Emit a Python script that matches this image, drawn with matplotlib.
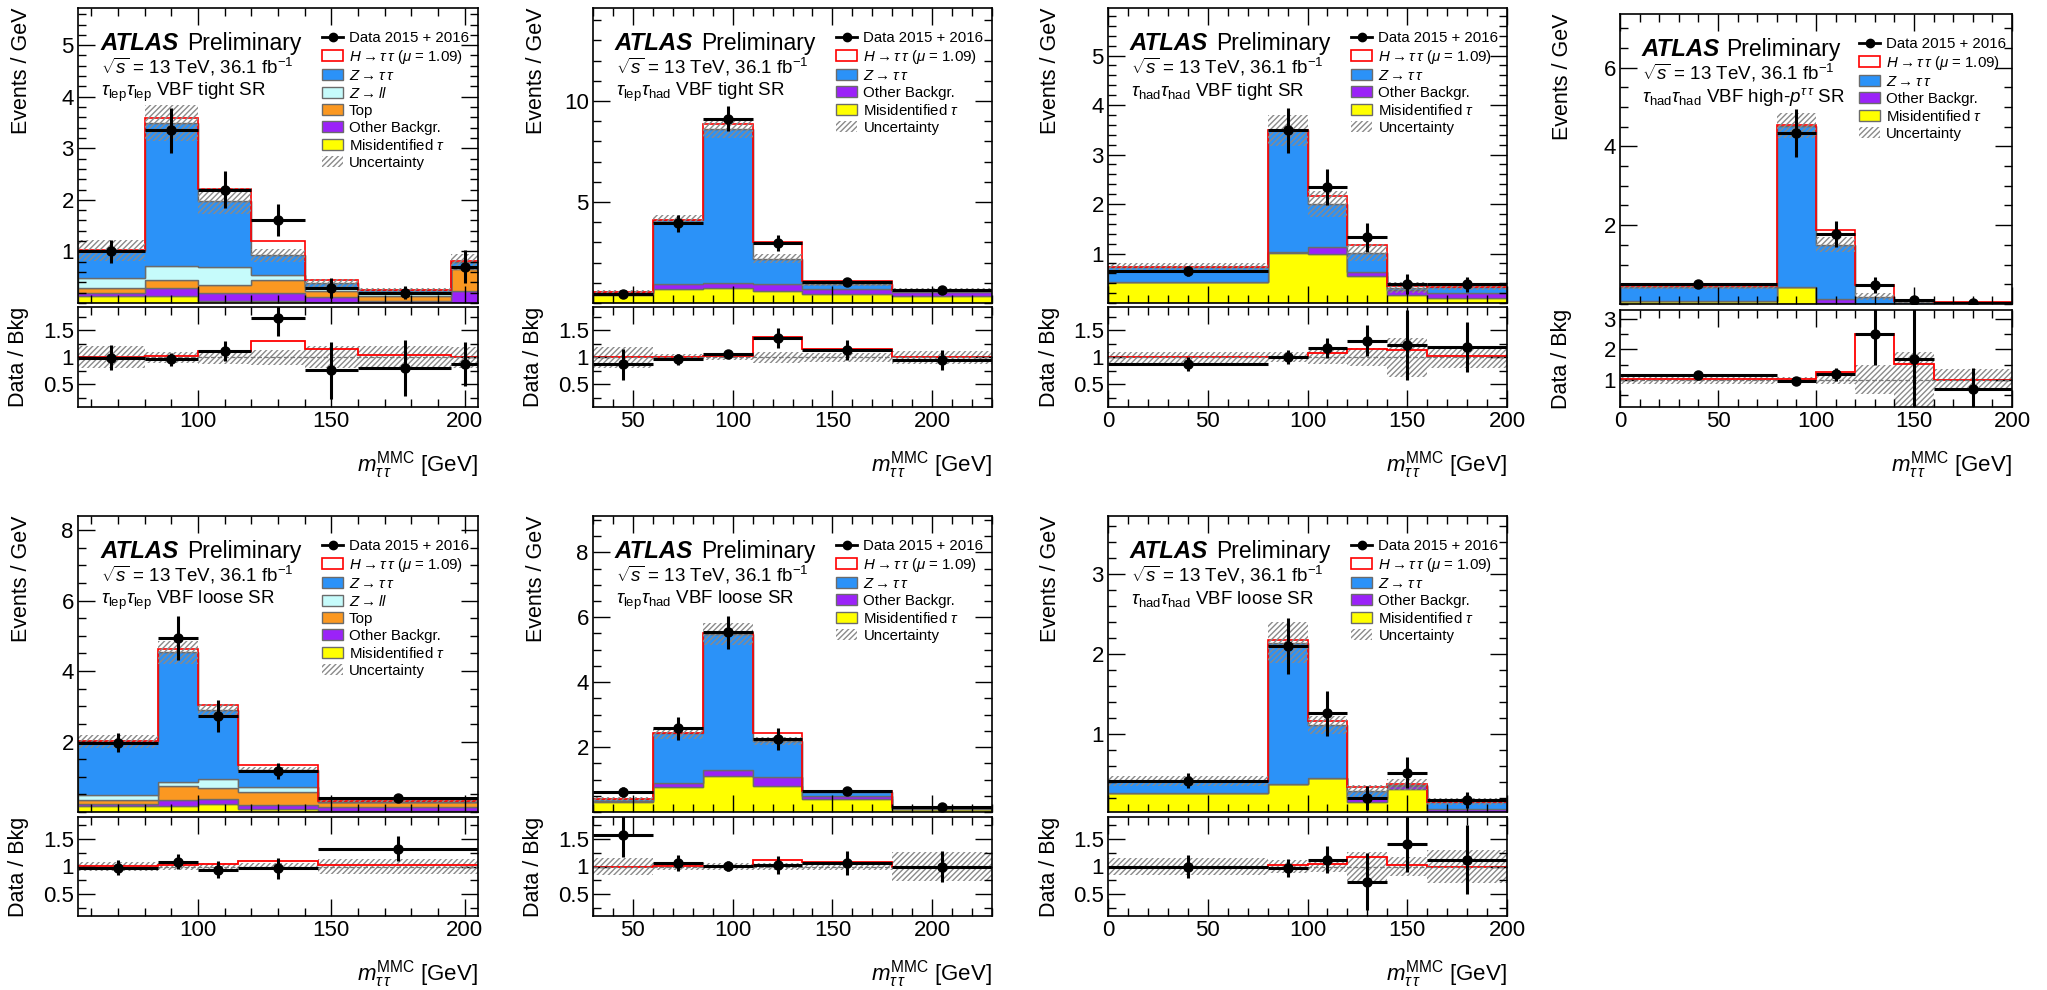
import numpy as np
import matplotlib
matplotlib.use('Agg')
import matplotlib.pyplot as plt
from matplotlib.patches import Patch
from matplotlib.lines import Line2D
from matplotlib.ticker import MultipleLocator, FixedLocator, FuncFormatter

plt.rcParams['font.family'] = ['Liberation Sans', 'DejaVu Sans']
plt.rcParams['mathtext.fontset'] = 'custom'
plt.rcParams['mathtext.rm'] = 'Liberation Sans'
plt.rcParams['mathtext.it'] = 'Liberation Sans:italic'
plt.rcParams['mathtext.bf'] = 'Liberation Sans:bold'
plt.rcParams['hatch.linewidth'] = 1.0

# ---------------- data (Events / GeV) ----------------
p1_edges = [55, 80, 100, 120, 140, 160, 195, 205]
p1_data = [1.00, 3.35, 2.20, 1.60, 0.29, 0.20, 0.70]
p1_err = [0.23, 0.44, 0.36, 0.31, 0.20, 0.13, 0.32]
p1_misid = [0.14, 0.14, 0.03, 0.045, 0.01, 0.005, 0.0]
p1_other = [0.05, 0.15, 0.16, 0.15, 0.10, 0.025, 0.24]
p1_top = [0.10, 0.16, 0.16, 0.26, 0.12, 0.10, 0.42]
p1_zll = [0.19, 0.26, 0.34, 0.08, 0.08, 0.06, 0.04]
p1_ztt = [0.53, 2.78, 1.29, 0.39, 0.07, 0.06, 0.10]
p1_higgs = [0.01, 0.10, 0.24, 0.28, 0.06, 0.01, 0.01]
p1_unc = [0.20, 0.10, 0.13, 0.14, 0.20, 0.20, 0.19]

p2_edges = [30, 60, 85, 110, 135, 180, 230]
p2_data = [0.46, 3.94, 9.13, 2.99, 1.06, 0.63]
p2_err = [0.15, 0.43, 0.62, 0.40, 0.17, 0.12]
p2_misid = [0.42, 0.71, 0.74, 0.58, 0.43, 0.35]
p2_other = [0.06, 0.21, 0.26, 0.34, 0.25, 0.19]
p2_ztt = [0.05, 3.18, 7.61, 1.28, 0.25, 0.12]
p2_higgs = [0.005, 0.02, 0.26, 0.81, 0.14, 0.005]
p2_unc = [0.19, 0.06, 0.05, 0.10, 0.08, 0.12]

p3_edges = [0, 80, 100, 120, 140, 160, 200]
p3_data = [0.64, 3.49, 2.34, 1.33, 0.38, 0.38]
p3_err = [0.10, 0.45, 0.37, 0.29, 0.20, 0.15]
p3_misid = [0.42, 1.02, 0.98, 0.54, 0.17, 0.10]
p3_other = [0.01, 0.02, 0.16, 0.08, 0.10, 0.10]
p3_ztt = [0.30, 2.45, 0.86, 0.40, 0.04, 0.12]
p3_higgs = [0.005, 0.01, 0.17, 0.16, 0.04, 0.01]
p3_unc = [0.10, 0.09, 0.13, 0.17, 0.36, 0.20]

p4_edges = [0, 80, 100, 120, 140, 160, 200]
p4_data = [0.50, 4.35, 1.78, 0.48, 0.09, 0.03]
p4_err = [0.06, 0.61, 0.33, 0.20, 0.09, 0.03]
p4_misid = [0.08, 0.44, 0.02, 0.0, 0.0, 0.0]
p4_other = [0.0, 0.0, 0.10, 0.01, 0.0, 0.0]
p4_ztt = [0.36, 4.09, 1.39, 0.18, 0.053, 0.043]
p4_higgs = [0.005, 0.02, 0.36, 0.29, 0.028, 0.0]
p4_unc = [0.15, 0.07, 0.13, 0.47, 0.90, 0.35]

p5_edges = [55, 85, 100, 115, 145, 205]
p5_data = [1.97, 4.94, 2.72, 1.16, 0.41]
p5_err = [0.27, 0.62, 0.46, 0.23, 0.07]
p5_misid = [0.16, 0.16, 0.22, 0.09, 0.02]
p5_other = [0.06, 0.17, 0.14, 0.12, 0.12]
p5_top = [0.13, 0.40, 0.33, 0.36, 0.14]
p5_zll = [0.14, 0.11, 0.26, 0.14, 0.01]
p5_ztt = [1.52, 3.69, 1.94, 0.49, 0.02]
p5_higgs = [0.005, 0.09, 0.14, 0.13, 0.006]
p5_unc = [0.09, 0.07, 0.06, 0.07, 0.13]

p6_edges = [30, 60, 85, 110, 135, 180, 230]
p6_data = [0.61, 2.58, 5.54, 2.25, 0.65, 0.14]
p6_err = [0.15, 0.35, 0.51, 0.35, 0.13, 0.04]
p6_misid = [0.32, 0.78, 1.11, 0.81, 0.39, 0.08]
p6_other = [0.01, 0.10, 0.18, 0.28, 0.10, 0.02]
p6_ztt = [0.06, 1.55, 4.20, 1.09, 0.12, 0.04]
p6_higgs = [0.0, 0.01, 0.03, 0.24, 0.05, 0.0]
p6_unc = [0.16, 0.07, 0.06, 0.06, 0.06, 0.27]

p7_edges = [0, 80, 100, 120, 140, 160, 200]
p7_data = [0.42, 2.10, 1.26, 0.21, 0.52, 0.18]
p7_err = [0.09, 0.35, 0.28, 0.15, 0.19, 0.10]
p7_misid = [0.27, 0.38, 0.45, 0.15, 0.32, 0.0]
p7_other = [0.0, 0.0, 0.0, 0.05, 0.04, 0.07]
p7_ztt = [0.15, 1.76, 0.67, 0.09, 0.01, 0.09]
p7_higgs = [0.0, 0.04, 0.05, 0.05, 0.01, 0.0]
p7_unc = [0.15, 0.12, 0.10, 0.27, 0.18, 0.30]

region_labels = [
    r"$\tau_{\rm lep}\tau_{\rm lep}$ VBF tight SR",
    r"$\tau_{\rm lep}\tau_{\rm had}$ VBF tight SR",
    r"$\tau_{\rm had}\tau_{\rm had}$ VBF tight SR",
    r"$\tau_{\rm had}\tau_{\rm had}$ VBF high-$p^{\tau\,\tau}$ SR",
    r"$\tau_{\rm lep}\tau_{\rm lep}$ VBF loose SR",
    r"$\tau_{\rm lep}\tau_{\rm had}$ VBF loose SR",
    r"$\tau_{\rm had}\tau_{\rm had}$ VBF loose SR",
]

C_ZTT = '#2b92f8'
C_ZLL = '#c6fbfb'
C_TOP = '#fb9821'
C_OTH = '#9b22f8'
C_MIS = '#ffff00'
C_EDGE = '#6b6b6b'
C_HATCH = '#8a8a8a'

W, H = 2047, 990
fig = plt.figure(figsize=(W / 100, H / 100), dpi=100)


def rect(x0, x1, y0, y1):
    return [x0 / W, 1 - y1 / H, (x1 - x0) / W, (y1 - y0) / H]


fmt = FuncFormatter(lambda v, p: '%g' % v)


def style(ax, maj_len=12, min_len=6):
    ax.tick_params(which='both', direction='in', top=True, right=True, width=1.0,
                   labelsize=16, pad=3)
    ax.tick_params(which='major', length=maj_len)
    ax.tick_params(which='minor', length=min_len)
    for s in ax.spines.values():
        s.set_linewidth(1.2)


def panel(cfg):
    x0, x1, my0, my1, ry0, ry1 = cfg['box']
    ax = fig.add_axes(rect(x0, x1, my0, my1))
    axr = fig.add_axes(rect(x0, x1, ry0, ry1))
    edges = np.array(cfg['edges'], float)
    comps = cfg['comps']
    base = np.zeros(len(edges) - 1)
    for vals, col in comps:
        vals = np.array(vals, float)
        ax.stairs(base + vals, edges, baseline=base.copy(), fill=True,
                  facecolor=col, edgecolor=C_EDGE, lw=1.0)
        base = base + vals
    bkg = base
    hig = np.array(cfg['higgs'], float)
    ax.stairs(bkg + hig, edges, baseline=bkg, fill=True, facecolor='white',
              edgecolor='none', lw=0)
    ax.stairs(bkg, edges, baseline=None, color=C_EDGE, lw=1.0)
    ax.stairs(bkg + hig, edges, baseline=None, color='red', lw=1.2)
    unc = np.array(cfg['unc'], float)
    ax.stairs(bkg * (1 + unc), edges, baseline=bkg * (1 - unc), fill=True,
              facecolor='none', edgecolor=C_HATCH, hatch='//////', lw=0)
    cen = 0.5 * (edges[1:] + edges[:-1])
    hw = 0.5 * (edges[1:] - edges[:-1])
    data = np.array(cfg['data'], float)
    err = np.array(cfg['err'], float)
    ax.errorbar(cen, data, yerr=err, xerr=hw, fmt='o', color='k', ms=6.5,
                elinewidth=2.2, capsize=0)
    ax.set_xlim(edges[0], edges[-1])
    ax.set_ylim(*cfg['ylim'])
    ax.yaxis.set_major_locator(FixedLocator(cfg['yticks']))
    ax.yaxis.set_minor_locator(MultipleLocator(cfg['yminor']))
    ax.yaxis.set_major_formatter(fmt)
    ax.xaxis.set_major_locator(MultipleLocator(50))
    ax.xaxis.set_minor_locator(MultipleLocator(10))
    style(ax)
    ax.tick_params(labelbottom=False)

    # ratio
    axr.stairs(1 + unc, edges, baseline=1 - unc, fill=True, facecolor='none',
               edgecolor=C_HATCH, hatch='//////', lw=0)
    axr.axhline(1, ls='--', color='#777777', lw=0.9)
    axr.stairs((bkg + hig) / bkg, edges, baseline=None, color='red', lw=1.3)
    axr.errorbar(cen, data / bkg, yerr=err / bkg, xerr=hw, fmt='o', color='k',
                 ms=6.5, elinewidth=2.2, capsize=0)
    axr.set_xlim(edges[0], edges[-1])
    axr.set_ylim(*cfg['rlim'])
    axr.yaxis.set_major_locator(FixedLocator(cfg['rticks']))
    axr.yaxis.set_minor_locator(MultipleLocator(cfg['rminor']))
    axr.yaxis.set_major_formatter(fmt)
    axr.xaxis.set_major_locator(MultipleLocator(50))
    axr.xaxis.set_minor_locator(MultipleLocator(10))
    axr.xaxis.set_major_formatter(fmt)
    style(axr)

    wpx = x1 - x0
    # labels
    ax.text(-57 / wpx, 1.0, 'Events / GeV', rotation=90, ha='center', va='top',
            transform=ax.transAxes, fontsize=15.5)
    axr.text(-59 / wpx, 0.5, 'Data / Bkg', rotation=90, ha='center', va='center',
             transform=axr.transAxes, fontsize=15.5)
    axr.text(1.0, -58 / (ry1 - ry0), r"$m_{\tau\,\tau}^{\rm MMC}$ [GeV]", ha='right',
             va='center', transform=axr.transAxes, fontsize=16)

    hpx = my1 - my0
    ax.text(0.055, 1 - 42 / hpx, 'ATLAS', fontweight='bold', style='italic',
            fontsize=17.3, transform=ax.transAxes, va='baseline')
    ax.text(0.272, 1 - 42 / hpx, 'Preliminary', fontsize=16.5,
            transform=ax.transAxes, va='baseline')
    ax.text(0.057, 1 - 65 / hpx, r"$\sqrt{s}$ = 13 TeV, 36.1 fb$^{-1}$",
            fontsize=13.5, transform=ax.transAxes, va='baseline')
    ax.text(0.057, 1 - 88 / hpx, cfg['label'], fontsize=13.5,
            transform=ax.transAxes, va='baseline')

    handles = [Line2D([0], [0], color='k', marker='o', ms=6, lw=2),
               Patch(facecolor='white', edgecolor='red', lw=1.2),
               Patch(facecolor=C_ZTT, edgecolor=C_EDGE)]
    labels = ['Data 2015 + 2016', r"$H\rightarrow\tau\,\tau$ ($\mu$ = 1.09)",
              r"$Z\rightarrow\tau\,\tau$"]
    if cfg['lep']:
        handles += [Patch(facecolor=C_ZLL, edgecolor=C_EDGE),
                    Patch(facecolor=C_TOP, edgecolor=C_EDGE)]
        labels += [r"$Z\rightarrow ll$", 'Top']
    handles += [Patch(facecolor=C_OTH, edgecolor=C_EDGE),
                Patch(facecolor=C_MIS, edgecolor=C_EDGE),
                Patch(facecolor='none', edgecolor=C_HATCH, hatch='//////', lw=0)]
    labels += ['Other Backgr.', r"Misidentified $\tau$", 'Uncertainty']
    ax.legend(handles, labels, loc='upper left',
              bbox_to_anchor=(0.61, 1 - 23 / hpx), frameon=False, fontsize=10.8,
              handlelength=1.4, handleheight=0.75, handletextpad=0.4,
              labelspacing=0.2, borderpad=0, borderaxespad=0)


cols = [(78, 478), (593, 992), (1108, 1507), (1620, 2012)]
row1 = (8, 303, 307, 407)
row4 = (14, 304, 310, 407)
row2 = (516, 812, 817, 916)

configs = [
    dict(box=cols[0] + row1, edges=p1_edges, data=p1_data, err=p1_err,
         comps=[(p1_misid, C_MIS), (p1_other, C_OTH), (p1_top, C_TOP),
                (p1_zll, C_ZLL), (p1_ztt, C_ZTT)],
         higgs=p1_higgs, unc=p1_unc, ylim=(0, 5.72), yticks=[1, 2, 3, 4, 5],
         yminor=0.2, rlim=(0.08, 1.93), rticks=[0.5, 1, 1.5], rminor=0.25,
         label=region_labels[0], lep=True),
    dict(box=cols[1] + row1, edges=p2_edges, data=p2_data, err=p2_err,
         comps=[(p2_misid, C_MIS), (p2_other, C_OTH), (p2_ztt, C_ZTT)],
         higgs=p2_higgs, unc=p2_unc, ylim=(0, 14.6), yticks=[5, 10],
         yminor=1, rlim=(0.08, 1.93), rticks=[0.5, 1, 1.5], rminor=0.25,
         label=region_labels[1], lep=False),
    dict(box=cols[2] + row1, edges=p3_edges, data=p3_data, err=p3_err,
         comps=[(p3_misid, C_MIS), (p3_other, C_OTH), (p3_ztt, C_ZTT)],
         higgs=p3_higgs, unc=p3_unc, ylim=(0, 5.96), yticks=[1, 2, 3, 4, 5],
         yminor=0.2, rlim=(0.08, 1.93), rticks=[0.5, 1, 1.5], rminor=0.25,
         label=region_labels[2], lep=False),
    dict(box=cols[3] + row4, edges=p4_edges, data=p4_data, err=p4_err,
         comps=[(p4_misid, C_MIS), (p4_other, C_OTH), (p4_ztt, C_ZTT)],
         higgs=p4_higgs, unc=p4_unc, ylim=(0, 7.36), yticks=[2, 4, 6],
         yminor=0.5, rlim=(0.09, 3.31), rticks=[1, 2, 3], rminor=0.5,
         label=region_labels[3], lep=False),
    dict(box=cols[0] + row2, edges=p5_edges, data=p5_data, err=p5_err,
         comps=[(p5_misid, C_MIS), (p5_other, C_OTH), (p5_top, C_TOP),
                (p5_zll, C_ZLL), (p5_ztt, C_ZTT)],
         higgs=p5_higgs, unc=p5_unc, ylim=(0, 8.4), yticks=[2, 4, 6, 8],
         yminor=0.5, rlim=(0.1, 1.9), rticks=[0.5, 1, 1.5], rminor=0.25,
         label=region_labels[4], lep=True),
    dict(box=cols[1] + row2, edges=p6_edges, data=p6_data, err=p6_err,
         comps=[(p6_misid, C_MIS), (p6_other, C_OTH), (p6_ztt, C_ZTT)],
         higgs=p6_higgs, unc=p6_unc, ylim=(0, 9.12), yticks=[2, 4, 6, 8],
         yminor=0.5, rlim=(0.1, 1.9), rticks=[0.5, 1, 1.5], rminor=0.25,
         label=region_labels[5], lep=False),
    dict(box=cols[2] + row2, edges=p7_edges, data=p7_data, err=p7_err,
         comps=[(p7_misid, C_MIS), (p7_other, C_OTH), (p7_ztt, C_ZTT)],
         higgs=p7_higgs, unc=p7_unc, ylim=(0.03, 3.72), yticks=[1, 2, 3],
         yminor=0.2, rlim=(0.1, 1.9), rticks=[0.5, 1, 1.5], rminor=0.25,
         label=region_labels[6], lep=False),
]

for c in configs:
    panel(c)

fig.savefig('out.png', dpi=100)
